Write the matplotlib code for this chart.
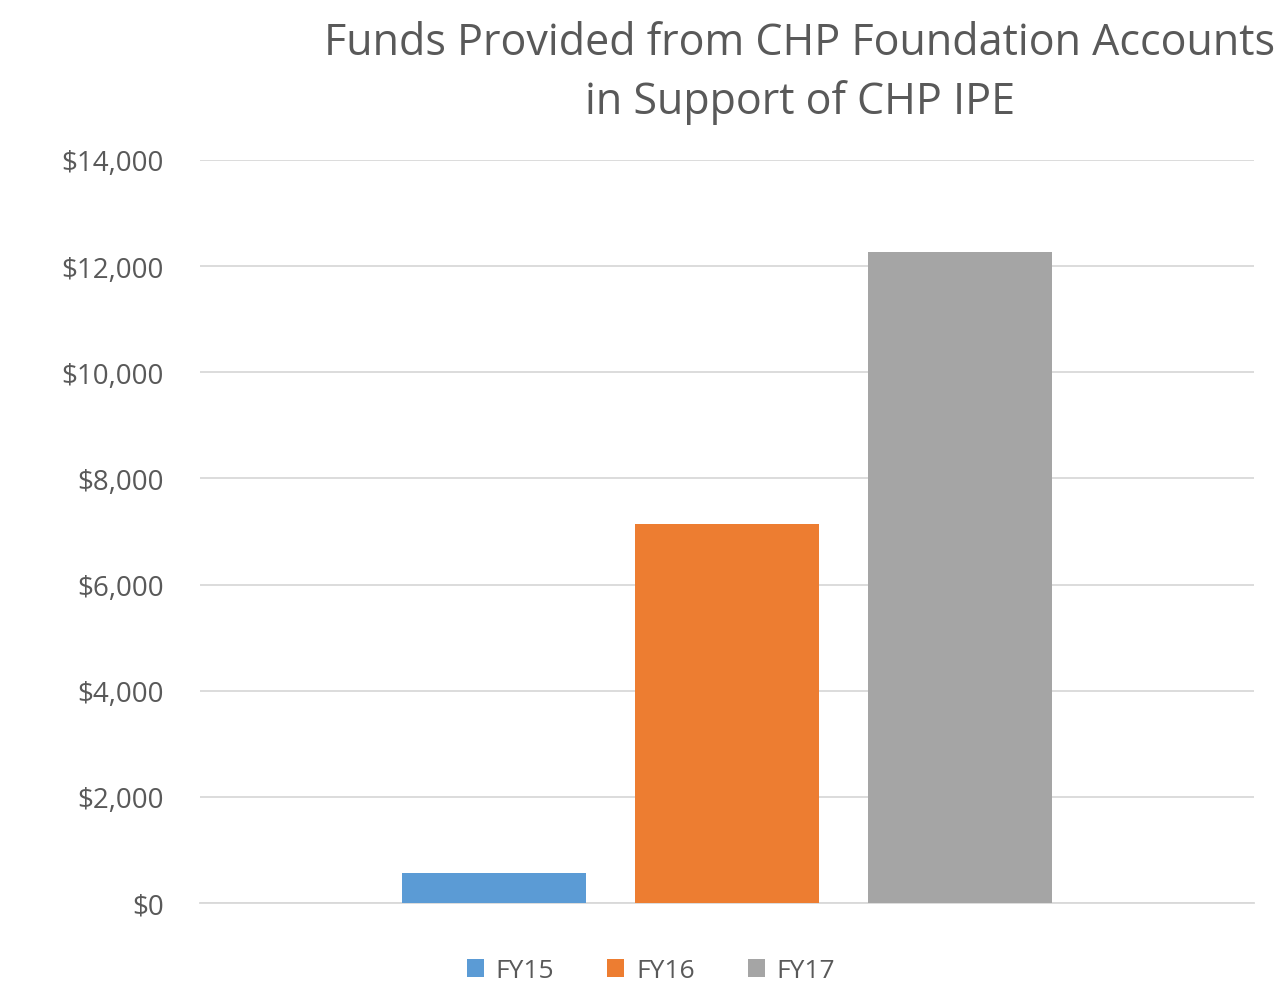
import matplotlib.pyplot as plt
from matplotlib.ticker import FuncFormatter

# data
series = ['FY15', 'FY16', 'FY17']
values = [570, 7150, 12270]
colors = ['#5b9bd5', '#ed7d31', '#a5a5a5']
yticks = [0, 2000, 4000, 6000, 8000, 10000, 12000, 14000]

plt.rcParams['font.family'] = ['Open Sans', 'DejaVu Sans']

fig = plt.figure(figsize=(12.81, 9.95), dpi=100)
ax = fig.add_axes([200/1281, 1 - 904/995, 1054/1281, 743/995])

width = 0.1746
gap = 0.0465
for i, (name, val, col) in enumerate(zip(series, values, colors)):
    offset = (i - 1) * (width + gap)
    ax.bar(offset, val, width=width, color=col, label=name, zorder=3)

ax.set_xlim(-0.5, 0.5)
ax.set_ylim(0, 14000)
ax.set_yticks(yticks)
ax.yaxis.set_major_formatter(FuncFormatter(lambda v, p: '${:,.0f}'.format(v)))
ax.set_xticks([])
ax.grid(axis='y', color='#d9d9d9', linewidth=1.3, zorder=0)
for s in ['top', 'right', 'left']:
    ax.spines[s].set_visible(False)
ax.spines['bottom'].set_color('#d9d9d9')
ax.spines['bottom'].set_linewidth(1.3)
ax.tick_params(axis='y', length=0, labelsize=20, labelcolor='#595959', pad=26)

fig.text(800/1281, 1 - 73/995, 'Funds Provided from CHP Foundation Accounts\nin Support of CHP IPE',
         ha='center', va='center', fontsize=31, color='#595959', linespacing=1.42)

ax.legend(loc='center', bbox_to_anchor=(651/1281, 1 - 972/995), bbox_transform=fig.transFigure,
          ncol=3, frameon=False, fontsize=19, labelcolor='#595959',
          handlelength=0.65, handleheight=0.65, handletextpad=0.45, columnspacing=2.0)

fig.savefig('out.png', dpi=100)
